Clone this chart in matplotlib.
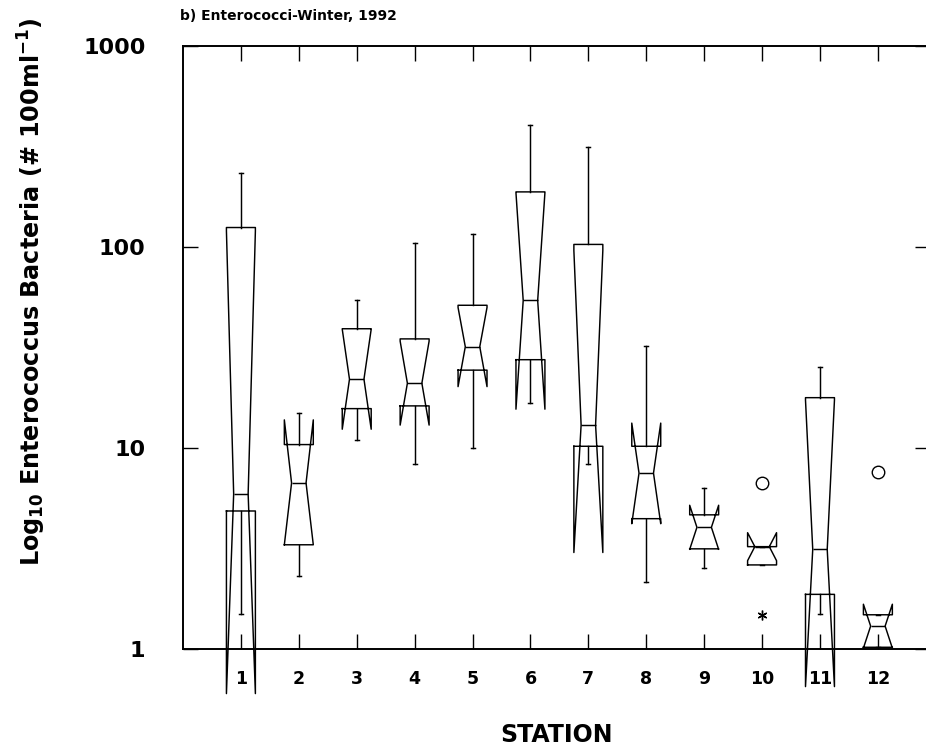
import matplotlib
matplotlib.use("Agg")
import matplotlib.pyplot as plt
from matplotlib.ticker import FixedLocator, FixedFormatter, NullLocator

plt.rcParams['font.family'] = ['DejaVu Sans']
plt.rcParams['font.weight'] = 'bold'
plt.rcParams['mathtext.fontset'] = 'dejavusans'

# Enterococcus counts per station (# / 100 ml), winter 1992
stations = [1, 2, 3, 4, 5, 6, 7, 8, 9, 10, 11, 12]
medians = [5.9, 6.7, 22.0, 21.0, 31.9, 54.2, 13.0, 7.5, 4.03, 3.23, 3.13, 1.30]
q1 = [4.86, 3.3, 15.7, 16.2, 24.4, 27.5, 10.2, 4.45, 3.15, 2.62, 1.87, 1.02]
q3 = [125.0, 10.4, 39.2, 34.9, 51.3, 188.0, 103.0, 10.2, 4.65, 3.23, 17.8, 1.48]
whisker_low = [1.5, 2.3, 10.9, 8.3, 10.0, 16.8, 8.36, 2.15, 2.54, 2.62, 1.49, 1.02]
whisker_high = [234.0, 15.0, 54.3, 105.0, 115.6, 403.0, 313.0, 32.2, 6.35, 3.23, 25.2, 1.48]
notch_low = [0.6, 3.3, 12.4, 13.0, 20.2, 15.6, 3.02, 4.2, 3.13, 2.75, 0.65, 1.01]
notch_high = [120.0, 13.8, 39.0, 34.0, 50.0, 186.0, 96.0, 13.3, 5.19, 3.79, 17.3, 1.67]

# outside values (circles) and outliers (asterisks)
far_x = [10, 12]
far_y = [6.7, 7.6]
near_x = [10]
near_y = [1.48]

y_ticks = [1, 10, 100, 1000]
y_tick_labels = ["1", "10", "100", "1000"]
x_tick_labels = [str(s) for s in stations]

fig = plt.figure(figsize=(9.26, 7.49), dpi=100)
ax = fig.add_axes([183 / 926, 100 / 749, 747 / 926, 603 / 749])

stats = []
for i in range(len(stations)):
    stats.append(dict(med=medians[i], q1=q1[i], q3=q3[i],
                      whislo=whisker_low[i], whishi=whisker_high[i],
                      cilo=notch_low[i], cihi=notch_high[i], fliers=[]))

lw = 1.05
art = ax.bxp(stats, positions=stations, widths=0.5, shownotches=True,
             showfliers=False, capwidths=0.07,
             boxprops=dict(color='black', linewidth=lw),
             medianprops=dict(color='black', linewidth=lw),
             whiskerprops=dict(color='black', linewidth=lw),
             capprops=dict(color='black', linewidth=lw))
for b in art['boxes']:
    b.set_clip_on(False)

ax.plot(far_x, far_y, linestyle='none', marker='o', markersize=9,
        markerfacecolor='none', markeredgecolor='black', markeredgewidth=1.0)
ax.plot(near_x, near_y, linestyle='none', marker=(6, 2, 0), markersize=7,
        color='black', markeredgewidth=1.0)

ax.set_yscale('log')
ax.set_ylim(1, 1000)
ax.set_xlim(0, 12.9)

ax.yaxis.set_major_locator(FixedLocator(y_ticks))
ax.yaxis.set_major_formatter(FixedFormatter(y_tick_labels))
ax.yaxis.set_minor_locator(NullLocator())
ax.xaxis.set_major_locator(FixedLocator(stations))
ax.xaxis.set_major_formatter(FixedFormatter(x_tick_labels))

ax.tick_params(axis='both', which='major', direction='in', length=11,
               width=1.0, top=True, right=True, color='black')
ax.tick_params(axis='y', pad=27, labelsize=16)
ax.tick_params(axis='x', pad=15, labelsize=12.5)
for lab in ax.get_xticklabels() + ax.get_yticklabels():
    lab.set_fontweight('bold')

for s in ax.spines.values():
    s.set_linewidth(1.4)

ax.set_xlabel("STATION", fontsize=17, fontweight='bold', labelpad=25)
fig.text(32 / 926, 0.61,
         r"Log$_{\mathbf{10}}$ Enterococcus Bacteria (# 100ml$^{\mathbf{-1}}$)",
         rotation=90, ha='center', va='center', fontsize=17.2, fontweight='bold')
fig.text(180 / 926, 1 - 16 / 749, "b) Enterococci-Winter, 1992",
         ha='left', va='center', fontsize=10, fontweight='bold')

fig.savefig("out.png", dpi=100)
